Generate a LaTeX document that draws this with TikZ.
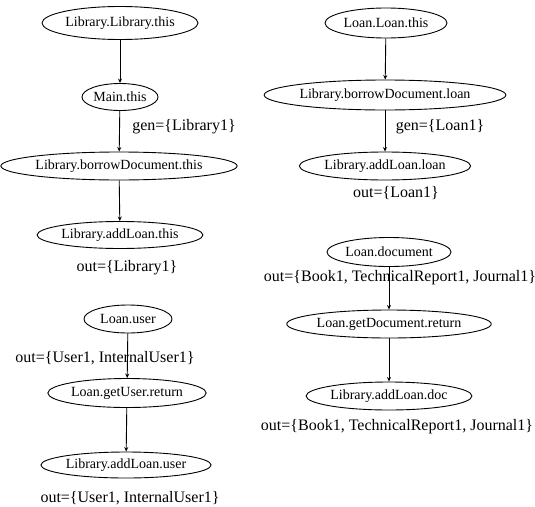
\documentclass[tikz,border=0pt]{standalone}
\usepackage{fontspec}
\setmainfont{Liberation Serif}
\usetikzlibrary{shapes.geometric,arrows.meta}
\begin{document}
\begin{tikzpicture}[x=1pt,y=-1pt,
  var/.style={ellipse,draw,line width=0.9pt,inner sep=0pt,
    font=\fontsize{14}{15}\selectfont},
  setlbl/.style={inner sep=0pt,font=\fontsize{16}{18}\selectfont},
  flow/.style={draw,line width=0.9pt,-{Stealth[length=4.5pt,width=4pt]}}]
\useasboundingbox (0,0) rectangle (535,506);

% Library.Library.this chain
\node[var,minimum width=156pt,minimum height=33pt] (a1) at (120,23) {Library.Library.this};
\node[var,minimum width=76pt,minimum height=27pt] (a2) at (120,97) {Main.this};
\node[var,minimum width=220pt,minimum height=28pt] (a3) at (119,166) {Library.borrowDocument.this};
\node[var,minimum width=160pt,minimum height=27pt] (a4) at (120,235) {Library.addLoan.this};
\node[setlbl] (la1) at (184,127) {gen=\{Library1\}};
\node[setlbl] (la2) at (127,268) {out=\{Library1\}};
\draw[flow] (a1) -- (a2);
\draw[flow] (a2) -- (a3);
\draw[flow] (a3) -- (a4);

% Loan.Loan.this chain
\node[var,minimum width=122pt,minimum height=30pt] (b1) at (386,23) {Loan.Loan.this};
\node[var,minimum width=228pt,minimum height=30pt] (b2) at (385,95) {Library.borrowDocument.loan};
\node[var,minimum width=160pt,minimum height=28pt] (b3) at (385,166) {Library.addLoan.loan};
\node[setlbl] (lb1) at (440,127) {gen=\{Loan1\}};
\node[setlbl] (lb2) at (396,193) {out=\{Loan1\}};
\draw[flow] (b1) -- (b2);
\draw[flow] (b2) -- (b3);

% Loan.user chain
\node[var,minimum width=88pt,minimum height=28pt] (c1) at (128,319) {Loan.user};
\node[setlbl] (lc1) at (105,358) {out=\{User1, InternalUser1\}};
\node[var,minimum width=158pt,minimum height=29pt] (c2) at (127,393) {Loan.getUser.return};
\node[var,minimum width=156pt,minimum height=26pt] (c3) at (126,465) {Library.addLoan.user};
\node[setlbl] (lc2) at (130,498) {out=\{User1, InternalUser1\}};
\draw[flow] (c1) -- (c2);
\draw[flow] (c2) -- (c3);

% Loan.document chain
\node[var,minimum width=124pt,minimum height=29pt] (d1) at (389,252) {Loan.document};
\node[setlbl] (ld1) at (400,278) {out=\{Book1, TechnicalReport1, Journal1\}};
\node[var,minimum width=196pt,minimum height=28pt] (d2) at (389,324) {Loan.getDocument.return};
\node[var,minimum width=162pt,minimum height=28pt] (d3) at (389,396) {Library.addLoan.doc};
\node[setlbl] (ld2) at (397,427) {out=\{Book1, TechnicalReport1, Journal1\}};
\draw[flow] (d1) -- (d2);
\draw[flow] (d2) -- (d3);
\end{tikzpicture}
\end{document}
